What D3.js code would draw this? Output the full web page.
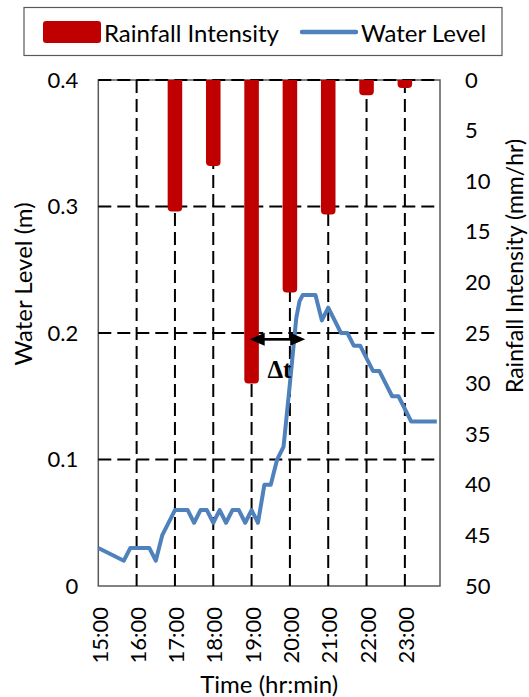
<!DOCTYPE html>
<html>
<head>
<meta charset="utf-8">
<script src="https://cdn.jsdelivr.net/npm/d3@7"></script>
<style>
  body { margin: 0; background: #fff; }
  svg { display: block; }
  text { font-family: Lato, "Open Sans", sans-serif; fill: #000; }
</style>
</head>
<body>
<svg id="chart" width="529" height="697"></svg>
<script>
// Hourly tick labels on the time axis
const hourTicks = ["15:00", "16:00", "17:00", "18:00", "19:00", "20:00", "21:00", "22:00", "23:00"];

// Hourly rainfall intensity (mm/hr), drawn downward from the top
const rainTimes = ["17:00", "18:00", "19:00", "20:00", "21:00", "22:00", "23:00"];
const rainIntensity = [13, 8.5, 30, 21, 13.3, 1.5, 0.8];

// Water level record (m)
const levelTimes = ["15:00", "15:40", "15:50", "16:20", "16:30", "16:40", "17:00", "17:20", "17:30", "17:40",
                    "17:50", "18:00", "18:10", "18:20", "18:30", "18:40", "18:50", "19:00", "19:10", "19:20",
                    "19:30", "19:40", "19:50", "20:00", "20:10", "20:15", "20:20", "20:40", "20:50", "21:00",
                    "21:20", "21:30", "21:40", "21:50", "22:10", "22:20", "22:40", "22:50", "23:10", "23:50"];
const waterLevel = [0.030, 0.020, 0.030, 0.030, 0.020, 0.040, 0.060, 0.060, 0.050, 0.060,
                    0.060, 0.050, 0.060, 0.050, 0.060, 0.060, 0.050, 0.060, 0.050, 0.080,
                    0.080, 0.100, 0.110, 0.160, 0.212, 0.225, 0.230, 0.230, 0.210, 0.220,
                    0.200, 0.200, 0.190, 0.190, 0.170, 0.170, 0.150, 0.150, 0.130, 0.130];

// Axis ticks
const levelTicks = [0, 0.1, 0.2, 0.3, 0.4];
const rainTicks = [0, 5, 10, 15, 20, 25, 30, 35, 40, 45, 50];

// Lag annotation between rainfall peak and water-level peak
const lagFrom = "18:57", lagTo = "20:24", lagLevel = 0.195;

const parse = d3.timeParse("%H:%M");
const svg = d3.select("#chart");

const plot = { left: 98.3, right: 440, top: 80, bottom: 586 };

const x = d3.scaleTime()
  .domain([parse("15:00"), parse("23:55")])
  .range([plot.left, plot.right]);
const y = d3.scaleLinear().domain([0, 0.4]).range([plot.bottom, plot.top]);
const yRain = d3.scaleLinear().domain([0, 50]).range([plot.top, plot.bottom]);

const hourDates = hourTicks.map(parse);
const hourWidth = x(parse("16:00")) - x(parse("15:00"));

// Plot frame
svg.append("rect")
  .attr("x", plot.left).attr("y", plot.top)
  .attr("width", plot.right - plot.left).attr("height", plot.bottom - plot.top)
  .attr("fill", "none").attr("stroke", "#595959").attr("stroke-width", 1.5);

// Dashed gridlines
const grid = svg.append("g").attr("stroke", "#000").attr("stroke-width", 2)
  .attr("stroke-dasharray", "13,6").attr("fill", "none");
grid.selectAll("line.h").data(levelTicks.filter(d => d > 0)).join("line")
  .attr("class", "h")
  .attr("x1", plot.left).attr("x2", plot.right)
  .attr("y1", d => y(d)).attr("y2", d => y(d));
grid.selectAll("line.v").data(hourDates.slice(1)).join("line")
  .attr("class", "v")
  .attr("x1", d => x(d)).attr("x2", d => x(d))
  .attr("y1", plot.top).attr("y2", plot.bottom);

// Rainfall bars hanging from the top, rounded at the lower end
const barW = hourWidth * 0.38;
const r = 4;
svg.append("g").selectAll("path").data(rainTimes.map((t, i) => ({ t: parse(t), v: rainIntensity[i] })))
  .join("path")
  .attr("fill", "#c00000")
  .attr("d", d => {
    const x0 = x(d.t) - barW / 2, x1 = x(d.t) + barW / 2;
    const y0 = yRain(0), y1 = yRain(d.v);
    const rr = Math.min(r, (y1 - y0) / 2);
    return `M${x0},${y0} L${x1},${y0} L${x1},${y1 - rr} Q${x1},${y1} ${x1 - rr},${y1} L${x0 + rr},${y1} Q${x0},${y1} ${x0},${y1 - rr} Z`;
  });

// Water level line
const lineGen = d3.line().x(d => x(d.t)).y(d => y(d.v));
svg.append("path")
  .datum(levelTimes.map((t, i) => ({ t: parse(t), v: waterLevel[i] })))
  .attr("d", lineGen)
  .attr("fill", "none").attr("stroke", "#4f81bd").attr("stroke-width", 4)
  .attr("stroke-linejoin", "round");

// Left axis: water level
const leftAxis = svg.append("g").attr("transform", `translate(${plot.left},0)`)
  .call(d3.axisLeft(y).tickValues(levelTicks).tickSize(0).tickPadding(20)
    .tickFormat(d => d === 0 ? "0" : d3.format(".1f")(d)));
leftAxis.select(".domain").remove();
leftAxis.selectAll("text").style("font-size", "22px").style("font-family", "Lato, sans-serif");

// Right axis: rainfall intensity (reversed)
const rightAxis = svg.append("g").attr("transform", `translate(${plot.right},0)`)
  .call(d3.axisRight(yRain).tickValues(rainTicks).tickSize(0).tickPadding(25));
rightAxis.select(".domain").remove();
rightAxis.selectAll("text").style("font-size", "22px").style("font-family", "Lato, sans-serif");

// Bottom axis: time, vertical labels
const bottomAxis = svg.append("g").attr("transform", `translate(0,${plot.bottom})`)
  .call(d3.axisBottom(x).tickValues(hourDates).tickSize(0).tickFormat(d3.timeFormat("%H:%M")));
bottomAxis.select(".domain").remove();
bottomAxis.selectAll("text")
  .attr("transform", "rotate(-90)")
  .attr("x", -21).attr("y", 1).attr("dy", "0.35em")
  .style("text-anchor", "end")
  .style("font-size", "22px").style("font-family", "Lato, sans-serif");

// Axis titles
svg.append("text")
  .attr("transform", `translate(22,284) rotate(-90)`)
  .attr("text-anchor", "middle").attr("dominant-baseline", "central")
  .style("font-size", "24px").text("Water Level (m)");
svg.append("text")
  .attr("transform", `translate(514,266) rotate(-90)`)
  .attr("text-anchor", "middle").attr("dominant-baseline", "central")
  .style("font-size", "23px").text("Rainfall Intensity (mm/hr)");
svg.append("text")
  .attr("x", (plot.left + plot.right) / 2).attr("y", 683)
  .attr("text-anchor", "middle").attr("dominant-baseline", "central")
  .style("font-size", "24px").text("Time (hr:min)");

// Lag arrow and label
const ax0 = x(parse(lagFrom)), ax1 = x(parse(lagTo)), ay = y(lagLevel);
const head = 15, halfH = 6.5;
const arrow = svg.append("g");
arrow.append("line")
  .attr("x1", ax0 + head - 2).attr("x2", ax1 - head + 2).attr("y1", ay).attr("y2", ay)
  .attr("stroke", "#000").attr("stroke-width", 2.7);
arrow.append("path").attr("fill", "#000")
  .attr("d", `M${ax0},${ay} L${ax0 + head},${ay - halfH} L${ax0 + head},${ay + halfH} Z`);
arrow.append("path").attr("fill", "#000")
  .attr("d", `M${ax1},${ay} L${ax1 - head},${ay - halfH} L${ax1 - head},${ay + halfH} Z`);
arrow.append("text")
  .attr("x", (ax0 + ax1) / 2 + 2).attr("y", ay + 39)
  .attr("text-anchor", "middle")
  .style("font-family", "'Liberation Serif', 'Times New Roman', serif")
  .style("font-weight", "bold").style("font-size", "25px")
  .text("Δt");

// Legend
const legend = svg.append("g");
legend.append("rect")
  .attr("x", 24).attr("y", 7.5).attr("width", 478).attr("height", 48)
  .attr("fill", "#fff").attr("stroke", "#595959").attr("stroke-width", 1.2);
legend.append("rect")
  .attr("x", 43).attr("y", 21).attr("width", 58).attr("height", 22).attr("rx", 3)
  .attr("fill", "#c00000");
legend.append("text")
  .attr("x", 104).attr("y", 32).attr("dominant-baseline", "central")
  .style("font-size", "24px").text("Rainfall Intensity");
legend.append("line")
  .attr("x1", 302).attr("x2", 356).attr("y1", 32).attr("y2", 32)
  .attr("stroke", "#4f81bd").attr("stroke-width", 4.5).attr("stroke-linecap", "round");
legend.append("text")
  .attr("x", 361).attr("y", 32).attr("dominant-baseline", "central")
  .style("font-size", "24px").text("Water Level");
</script>
</body>
</html>
